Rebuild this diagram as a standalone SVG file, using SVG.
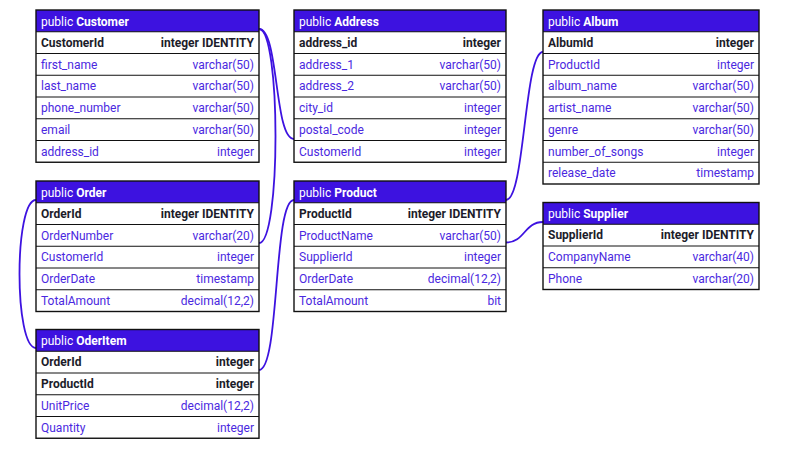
<svg xmlns="http://www.w3.org/2000/svg" width="799" height="462" viewBox="0 0 799 462">
<style>
text{font-family:Roboto,"Liberation Sans",sans-serif;font-size:12px}
.hd{fill:#3d12e0}
.bd{fill:#ffffff}
.ol{fill:none;stroke:#111111;stroke-width:1.4}
.sep{stroke:#111111;stroke-width:1}
.ht{fill:#ffffff}
.ht tspan.b{font-weight:bold}
.k{fill:#1c1c2a;font-weight:bold}
.f{fill:#4a28e0}
.r{text-anchor:end}
.c{fill:none;stroke:#3d12e0;stroke-width:1.8}
</style>
<rect width="799" height="462" fill="#ffffff"/>
<g id="connectors">
<path class="c" d="M259 29 C279 29 274 139 294 139"/>
<path class="c" d="M259 29 C281 29 281 243 259 243"/>
<path class="c" d="M36 200 C14 200 14 348 36 348"/>
<path class="c" d="M259 370 C280 370 273 200 294 200"/>
<path class="c" d="M506 200 C525 200 524 52 543 52"/>
<path class="c" d="M506 242.5 C525 242.5 524 222 543 222"/>
</g>
<g id="customer">
<rect class="bd" x="36" y="10" width="223" height="152.25"/>
<rect class="hd" x="36" y="10" width="223" height="21.75"/>
<path class="sep" d="M36 31.75H259M36 53.5H259M36 75.25H259M36 97H259M36 118.75H259M36 140.5H259"/>
<rect class="ol" x="36" y="10" width="223" height="152.25"/>
<text class="ht" x="41" y="25.5">public <tspan class="b">Customer</tspan></text>
<text class="k" x="41" y="46.75">CustomerId</text><text class="k r" x="254" y="46.75">integer IDENTITY</text>
<text class="f" x="41" y="68.5">first_name</text><text class="f r" x="254" y="68.5">varchar(50)</text>
<text class="f" x="41" y="90.25">last_name</text><text class="f r" x="254" y="90.25">varchar(50)</text>
<text class="f" x="41" y="112">phone_number</text><text class="f r" x="254" y="112">varchar(50)</text>
<text class="f" x="41" y="133.75">email</text><text class="f r" x="254" y="133.75">varchar(50)</text>
<text class="f" x="41" y="155.5">address_id</text><text class="f r" x="254" y="155.5">integer</text>
</g>
<g id="address">
<rect class="bd" x="294" y="10" width="212" height="152.25"/>
<rect class="hd" x="294" y="10" width="212" height="21.75"/>
<path class="sep" d="M294 31.75H506M294 53.5H506M294 75.25H506M294 97H506M294 118.75H506M294 140.5H506"/>
<rect class="ol" x="294" y="10" width="212" height="152.25"/>
<text class="ht" x="299" y="25.5">public <tspan class="b">Address</tspan></text>
<text class="k" x="299" y="46.75">address_id</text><text class="k r" x="501" y="46.75">integer</text>
<text class="f" x="299" y="68.5">address_1</text><text class="f r" x="501" y="68.5">varchar(50)</text>
<text class="f" x="299" y="90.25">address_2</text><text class="f r" x="501" y="90.25">varchar(50)</text>
<text class="f" x="299" y="112">city_id</text><text class="f r" x="501" y="112">integer</text>
<text class="f" x="299" y="133.75">postal_code</text><text class="f r" x="501" y="133.75">integer</text>
<text class="f" x="299" y="155.5">CustomerId</text><text class="f r" x="501" y="155.5">integer</text>
</g>
<g id="album">
<rect class="bd" x="543" y="10" width="216" height="174"/>
<rect class="hd" x="543" y="10" width="216" height="21.75"/>
<path class="sep" d="M543 31.75H759M543 53.5H759M543 75.25H759M543 97H759M543 118.75H759M543 140.5H759M543 162.25H759"/>
<rect class="ol" x="543" y="10" width="216" height="174"/>
<text class="ht" x="548" y="25.5">public <tspan class="b">Album</tspan></text>
<text class="k" x="548" y="46.75">AlbumId</text><text class="k r" x="754" y="46.75">integer</text>
<text class="f" x="548" y="68.5">ProductId</text><text class="f r" x="754" y="68.5">integer</text>
<text class="f" x="548" y="90.25">album_name</text><text class="f r" x="754" y="90.25">varchar(50)</text>
<text class="f" x="548" y="112">artist_name</text><text class="f r" x="754" y="112">varchar(50)</text>
<text class="f" x="548" y="133.75">genre</text><text class="f r" x="754" y="133.75">varchar(50)</text>
<text class="f" x="548" y="155.5">number_of_songs</text><text class="f r" x="754" y="155.5">integer</text>
<text class="f" x="548" y="177.25">release_date</text><text class="f r" x="754" y="177.25">timestamp</text>
</g>
<g id="order">
<rect class="bd" x="36" y="181" width="223" height="130.5"/>
<rect class="hd" x="36" y="181" width="223" height="21.75"/>
<path class="sep" d="M36 202.75H259M36 224.5H259M36 246.25H259M36 268H259M36 289.75H259"/>
<rect class="ol" x="36" y="181" width="223" height="130.5"/>
<text class="ht" x="41" y="196.5">public <tspan class="b">Order</tspan></text>
<text class="k" x="41" y="217.75">OrderId</text><text class="k r" x="254" y="217.75">integer IDENTITY</text>
<text class="f" x="41" y="239.5">OrderNumber</text><text class="f r" x="254" y="239.5">varchar(20)</text>
<text class="f" x="41" y="261.25">CustomerId</text><text class="f r" x="254" y="261.25">integer</text>
<text class="f" x="41" y="283">OrderDate</text><text class="f r" x="254" y="283">timestamp</text>
<text class="f" x="41" y="304.75">TotalAmount</text><text class="f r" x="254" y="304.75">decimal(12,2)</text>
</g>
<g id="product">
<rect class="bd" x="294" y="181" width="212" height="130.5"/>
<rect class="hd" x="294" y="181" width="212" height="21.75"/>
<path class="sep" d="M294 202.75H506M294 224.5H506M294 246.25H506M294 268H506M294 289.75H506"/>
<rect class="ol" x="294" y="181" width="212" height="130.5"/>
<text class="ht" x="299" y="196.5">public <tspan class="b">Product</tspan></text>
<text class="k" x="299" y="217.75">ProductId</text><text class="k r" x="501" y="217.75">integer IDENTITY</text>
<text class="f" x="299" y="239.5">ProductName</text><text class="f r" x="501" y="239.5">varchar(50)</text>
<text class="f" x="299" y="261.25">SupplierId</text><text class="f r" x="501" y="261.25">integer</text>
<text class="f" x="299" y="283">OrderDate</text><text class="f r" x="501" y="283">decimal(12,2)</text>
<text class="f" x="299" y="304.75">TotalAmount</text><text class="f r" x="501" y="304.75">bit</text>
</g>
<g id="supplier">
<rect class="bd" x="543" y="202.5" width="216" height="87"/>
<rect class="hd" x="543" y="202.5" width="216" height="21.75"/>
<path class="sep" d="M543 224.25H759M543 246H759M543 267.75H759"/>
<rect class="ol" x="543" y="202.5" width="216" height="87"/>
<text class="ht" x="548" y="218">public <tspan class="b">Supplier</tspan></text>
<text class="k" x="548" y="239.25">SupplierId</text><text class="k r" x="754" y="239.25">integer IDENTITY</text>
<text class="f" x="548" y="261">CompanyName</text><text class="f r" x="754" y="261">varchar(40)</text>
<text class="f" x="548" y="282.75">Phone</text><text class="f r" x="754" y="282.75">varchar(20)</text>
</g>
<g id="oderitem">
<rect class="bd" x="36" y="329.5" width="223" height="108.75"/>
<rect class="hd" x="36" y="329.5" width="223" height="21.75"/>
<path class="sep" d="M36 351.25H259M36 373H259M36 394.75H259M36 416.5H259"/>
<rect class="ol" x="36" y="329.5" width="223" height="108.75"/>
<text class="ht" x="41" y="345">public <tspan class="b">OderItem</tspan></text>
<text class="k" x="41" y="366.25">OrderId</text><text class="k r" x="254" y="366.25">integer</text>
<text class="k" x="41" y="388">ProductId</text><text class="k r" x="254" y="388">integer</text>
<text class="f" x="41" y="409.75">UnitPrice</text><text class="f r" x="254" y="409.75">decimal(12,2)</text>
<text class="f" x="41" y="431.5">Quantity</text><text class="f r" x="254" y="431.5">integer</text>
</g>
</svg>
